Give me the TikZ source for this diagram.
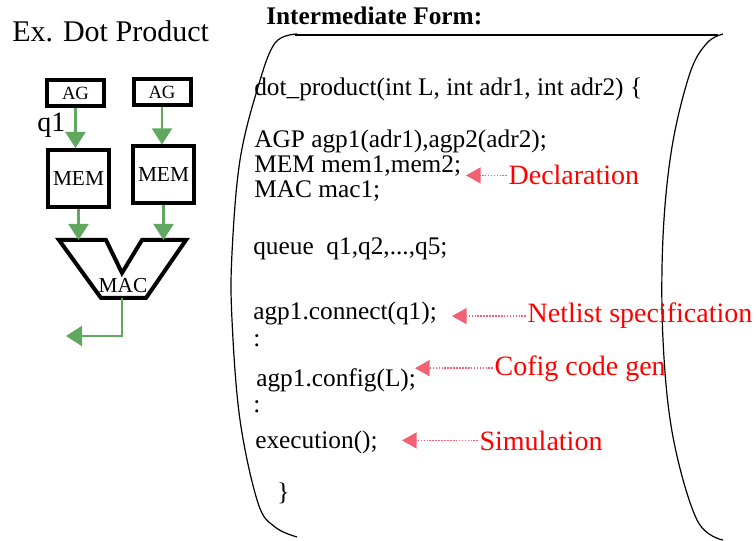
\documentclass[tikz,border=0pt]{standalone}
\usepackage{fontspec}
\setmainfont{Liberation Serif}
\usetikzlibrary{arrows.meta, calc}
\definecolor{arrowgreen}{RGB}{96,168,96}
\definecolor{arrowred}{RGB}{242,96,116}

\begin{document}
\begin{tikzpicture}[x=0.75pt, y=-0.75pt,
		codeline/.style={anchor=base west, inner sep=0pt, font=\fontsize{19}{22}\selectfont},
		redlabel/.style={anchor=base west, inner sep=1pt, text=red, font=\fontsize{21}{24}\selectfont},
		blkbox/.style={draw, line width=3pt, inner sep=0pt},
		greenarrow/.style={draw=arrowgreen, line width=1.6pt, -{Triangle[length=12pt, width=15pt, fill=arrowgreen]}},
		redarrow/.style={draw=arrowred, line width=1.2pt, densely dotted, -{Triangle[length=11pt, width=12pt, fill=arrowred]}}]
		\useasboundingbox (0,0) rectangle (756,541);
		% left: the dot product example
		\node[anchor=base west, inner sep=0pt, font=\fontsize{22.5}{26}\selectfont] (extitle) at (12,42) {Ex. Dot Product};
		\node[blkbox, minimum width=42.75pt, minimum height=19.5pt, font=\fontsize{14}{16}\selectfont] (ag1) at (75.5,93) {AG};
		\node[blkbox, minimum width=42.75pt, minimum height=19.5pt, font=\fontsize{14}{16}\selectfont] (ag2) at (162,92) {AG};
		\node[blkbox, minimum width=45.75pt, minimum height=42.75pt, font=\fontsize{16}{18}\selectfont] (mem1) at (78.5,178.5) {MEM};
		\node[blkbox, minimum width=45.75pt, minimum height=42.75pt, font=\fontsize{16}{18}\selectfont] (mem2) at (163.5,175) {MEM};
		\node[anchor=base west, inner sep=0pt, font=\fontsize{21}{24}\selectfont] (qone) at (37,132) {q1};
		\draw[line width=3pt, line join=miter] (59,240) -- (106,240) -- (122,273) -- (142,240) -- (186,240) -- (146,298) -- (101,298) -- cycle;
		\node[inner sep=0pt, font=\fontsize{16}{18}\selectfont] (mac) at (123,286) {MAC};
		\coordinate (mactop) at (122,240);
		\coordinate (macbot) at (122,298);
		\coordinate (qout) at (66,336);
		\foreach \src/\dst in {ag1/mem1, ag2/mem2}{
			\draw[greenarrow] (\src.south) -- (\src.south |- \dst.north);
		}
		\foreach \src in {mem1, mem2}{
			\draw[greenarrow] (\src.south) -- (\src.south |- mactop);
		}
		\draw[greenarrow] (macbot) |- (qout);
		% right: the intermediate form
		\node[anchor=base west, inner sep=0pt, font=\bfseries\fontsize{19}{22}\selectfont] (irtitle) at (266,25) {Intermediate Form:};
		\draw[line width=0.9pt] (295,35) -- (718,35);
		\draw[line width=0.9pt] plot[smooth, tension=0.6] coordinates {(297,34) (275,43) (258,87) (240,160) (232,253) (232,320) (240,420) (258,503) (275,527) (297,537)};
		\draw[line width=0.9pt] plot[smooth, tension=0.6] coordinates {(723,34) (707,43) (690,73) (672,147) (663,237) (663,340) (673,437) (697,520) (723,540)};
		\node[codeline] (dotprod) at (254,96) {dot\_product(int L, int adr1, int adr2) \{};
		\node[codeline] (agpdecl) at (254,148) {AGP agp1(adr1),agp2(adr2);};
		\node[codeline] (memdecl) at (254,173) {MEM mem1,mem2;};
		\node[codeline] (macdecl) at (254,198) {MAC mac1;};
		\node[codeline] (queuedecl) at (253,255) {queue~~q1,q2,...,q5;};
		\node[codeline] (connect) at (253,320) {agp1.connect(q1);};
		\node[codeline] (dotsa) at (253,346) {:};
		\node[codeline] (config) at (256,386) {agp1.config(L);};
		\node[codeline] (dotsb) at (253,412) {:};
		\node[codeline] (exec) at (255,448) {execution();};
		\node[codeline] (closebrace) at (277,500) {\}};
		% what each part is for
		\node[redlabel] (decl) at (507,185) {Declaration};
		\node[redlabel] (netlist) at (526,323) {Netlist specification};
		\node[redlabel] (cofig) at (493,375) {Cofig code gen};
		\node[redlabel] (simul) at (478,450) {Simulation};
		\coordinate (decltip) at (466,177);
		\coordinate (netlisttip) at (452,315);
		\coordinate (cofigtip) at (415,369);
		\coordinate (simultip) at (402,442);
		\foreach \lbl in {decl, netlist, cofig, simul}{
			\draw[redarrow] (\lbl.west) -- (\lbl.west -| \lbl tip);
		}
	\end{tikzpicture}
\end{document}
